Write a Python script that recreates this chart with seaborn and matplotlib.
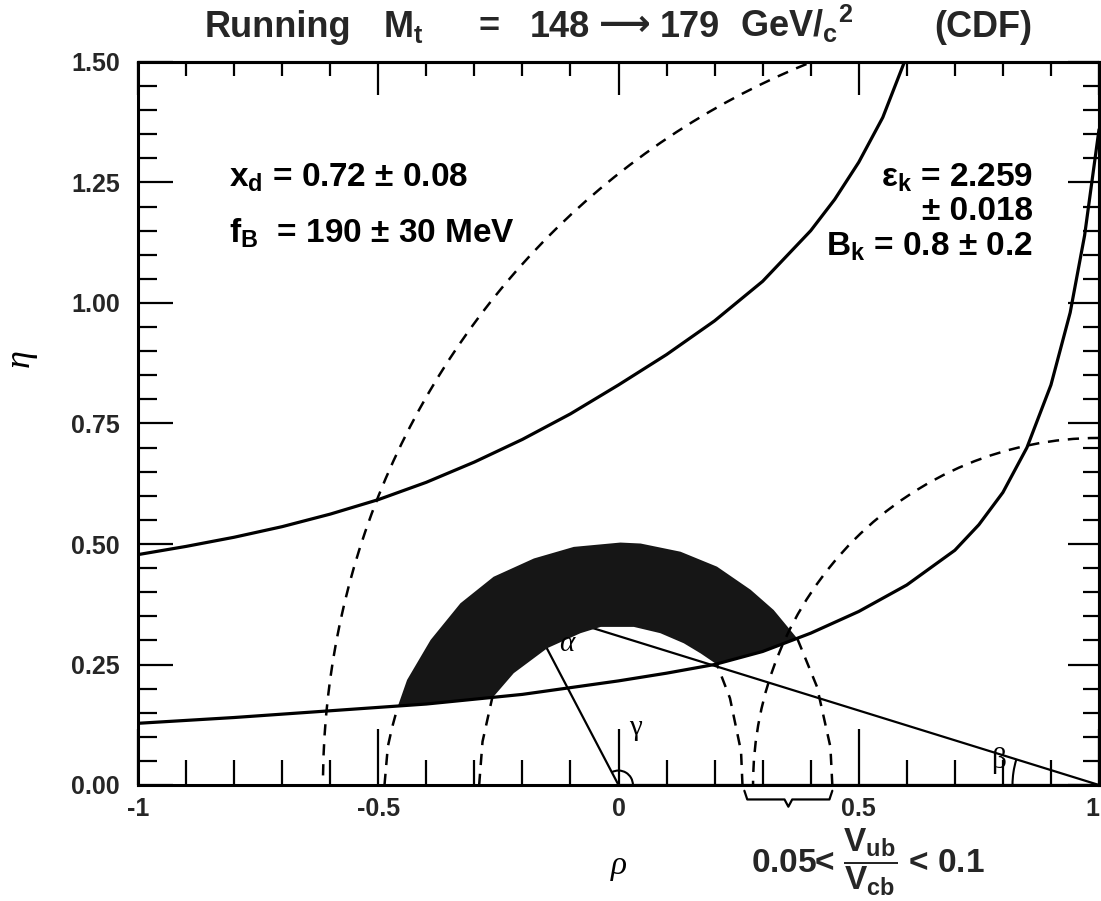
import matplotlib
matplotlib.use("Agg")
import matplotlib.pyplot as plt
from matplotlib.patches import Arc
from matplotlib.ticker import MultipleLocator
import seaborn as sns

# ── datos ────────────────────────────────────────────────────────────────────
# hipérbola de eps_K (rama superior e inferior)
EPS_UP_RHO = [-1.0, -0.9, -0.8, -0.7, -0.6, -0.5, -0.4, -0.3, -0.2, -0.1, 0.0,
              0.1, 0.2, 0.3, 0.4, 0.45, 0.5, 0.55, 0.595]
EPS_UP_ETA = [0.478, 0.495, 0.514, 0.536, 0.562, 0.592, 0.628, 0.67, 0.717, 0.77, 0.83,
              0.893, 0.963, 1.045, 1.15, 1.215, 1.292, 1.385, 1.5]

EPS_LO_RHO = [-1.0, -0.8, -0.6, -0.4, -0.2, 0.0, 0.1, 0.2, 0.3, 0.4, 0.5, 0.6,
              0.7, 0.75, 0.8, 0.85, 0.9, 0.94, 0.97, 1.0]
EPS_LO_ETA = [0.128, 0.14, 0.154, 0.168, 0.188, 0.216, 0.232, 0.25, 0.277, 0.315, 0.36, 0.415,
              0.487, 0.54, 0.607, 0.7, 0.83, 0.98, 1.14, 1.36]

# círculos de x_d centrados en (1, 0)
XD_CENTER = (1.0, 0.0)
XD_RADII = [0.72, 1.615]

# tramos cortos de |Vub/Vcb| (del eje hasta la banda)
VUB_SEGMENTS = [
    ([-0.487, -0.48, -0.471, -0.459], [0.0, 0.08, 0.12, 0.164]),
    ([-0.29, -0.283, -0.263], [0.0, 0.09, 0.18]),
    ([0.258, 0.255, 0.232, 0.205], [0.0, 0.07, 0.18, 0.25]),
    ([0.445, 0.441, 0.413, 0.379, 0.372], [0.0, 0.079, 0.204, 0.287, 0.304]),
]
BRACE_RHO = (0.262, 0.445)

# región permitida (banda sombreada)
BAND_OUTER_RHO = [-0.459, -0.44, -0.391, -0.329, -0.26, -0.176, -0.093, 0.004, 0.046,
                  0.129, 0.205, 0.275, 0.323, 0.372]
BAND_OUTER_ETA = [0.164, 0.218, 0.301, 0.377, 0.432, 0.47, 0.494, 0.503, 0.501,
                  0.484, 0.453, 0.405, 0.363, 0.304]
BAND_LOWR_RHO = [0.3, 0.205]
BAND_LOWR_ETA = [0.277, 0.25]
BAND_INNER_RHO = [0.171, 0.136, 0.087, 0.032, -0.037, -0.079, -0.148, -0.218, -0.263]
BAND_INNER_ETA = [0.273, 0.294, 0.315, 0.328, 0.328, 0.315, 0.284, 0.232, 0.18]
BAND_LOWL_RHO = [-0.36]
BAND_LOWL_ETA = [0.172]

# triángulo de unitariedad
TRI_RHO = [0.0, 1.0, -0.194, 0.0]
TRI_ETA = [0.0, 0.0, 0.369, 0.0]

XTICKS = [-1, -0.5, 0, 0.5, 1]
XTICK_LABELS = ["-1", "-0.5", "0", "0.5", "1"]
YTICKS = [0.0, 0.25, 0.5, 0.75, 1.0, 1.25, 1.5]

# ── estilo ───────────────────────────────────────────────────────────────────
sns.set_theme(style="ticks")
plt.rcParams["font.family"] = ["Liberation Sans", "DejaVu Sans"]
plt.rcParams["font.weight"] = "bold"
plt.rcParams["mathtext.fontset"] = "custom"
plt.rcParams["mathtext.rm"] = "Liberation Sans:bold"
plt.rcParams["mathtext.it"] = "Liberation Sans:bold"
plt.rcParams["mathtext.bf"] = "Liberation Sans:bold"
plt.rcParams["mathtext.sf"] = "Liberation Sans:bold"

fig = plt.figure(figsize=(11.01, 9.01), dpi=100)
ax = fig.add_axes([138 / 1101, 116 / 901, 961 / 1101, 723 / 901])

DASH = (0, (4.5, 3.5))

# triángulo (debajo de la banda)
ax.plot(TRI_RHO, TRI_ETA, color="black", lw=1.6, zorder=2)

# banda
band_x = BAND_OUTER_RHO + BAND_LOWR_RHO + BAND_INNER_RHO + BAND_LOWL_RHO
band_y = BAND_OUTER_ETA + BAND_LOWR_ETA + BAND_INNER_ETA + BAND_LOWL_ETA
ax.fill(band_x, band_y, color="#161616", lw=0, zorder=3)

# hipérbolas eps_K
for xs, ys in [(EPS_UP_RHO, EPS_UP_ETA), (EPS_LO_RHO, EPS_LO_ETA)]:
    sns.lineplot(x=xs, y=ys, sort=False, estimator=None, color="black",
                 linewidth=2.3, ax=ax, zorder=4)

# círculos x_d
for r in XD_RADII:
    ax.add_patch(Arc(XD_CENTER, 2 * r, 2 * r, theta1=90, theta2=180,
                     color="black", lw=1.8, linestyle=DASH, zorder=4))

# tramos Vub/Vcb
for xs, ys in VUB_SEGMENTS:
    sns.lineplot(x=xs, y=ys, sort=False, estimator=None, color="black",
                 linewidth=1.8, linestyle=DASH, ax=ax, zorder=4)

# ángulos
ax.add_patch(Arc((0, 0), 0.06, 0.06, theta1=0, theta2=118, color="black", lw=1.5, zorder=4))
ax.add_patch(Arc((1, 0), 0.36, 0.36, theta1=163, theta2=180, color="black", lw=1.5, zorder=4))
serif = dict(family=["Liberation Serif", "DejaVu Serif"], fontweight="normal", color="black")
ax.text(0.022, 0.118, "γ", fontsize=21, ha="left", va="center", zorder=5, **serif)
ax.text(0.79, 0.05, "β", fontsize=21, ha="center", va="center", zorder=5, **serif)
ax.text(-0.108, 0.292, "α", fontsize=21, style="italic", ha="center", va="center", zorder=5, **serif)

# llave bajo el eje
b0, b1 = BRACE_RHO
bm = (b0 + b1) / 2
ax.plot([b0, b0 + 0.006, bm - 0.008, bm, bm + 0.008, b1 - 0.006, b1],
        [-0.012, -0.03, -0.03, -0.045, -0.03, -0.03, -0.012],
        color="black", lw=1.6, clip_on=False)

# ejes
ax.set_xlim(-1, 1)
ax.set_ylim(0, 1.5)
ax.set_xticks(XTICKS)
ax.set_xticklabels(XTICK_LABELS)
ax.set_yticks(YTICKS)
ax.set_yticklabels([f"{v:.2f}" for v in YTICKS])
ax.xaxis.set_minor_locator(MultipleLocator(0.1))
ax.yaxis.set_minor_locator(MultipleLocator(0.05))
ax.tick_params(which="both", direction="in", top=False, right=False, color="black", width=1.6)
ax.tick_params(axis="x", which="major", length=40, labelsize=18, pad=9)
ax.tick_params(axis="x", which="minor", length=18)
ax.tick_params(axis="y", which="major", length=25, labelsize=18, pad=13)
ax.tick_params(axis="y", which="minor", length=14)
for lab in ax.get_xticklabels() + ax.get_yticklabels():
    lab.set_fontweight("bold")
ax.get_xticklabels()[-1].set_ha("right")

# ticks de arriba y de la derecha (más cortos)
secx = ax.secondary_xaxis("top")
secx.set_xticks(XTICKS)
secx.xaxis.set_minor_locator(MultipleLocator(0.1))
secx.tick_params(which="both", direction="in", labeltop=False, color="black", width=1.6)
secx.tick_params(which="major", length=24)
secx.tick_params(which="minor", length=10)
secy = ax.secondary_yaxis("right")
secy.set_yticks(YTICKS)
secy.yaxis.set_minor_locator(MultipleLocator(0.05))
secy.tick_params(which="both", direction="in", labelright=False, color="black", width=1.6)
secy.tick_params(which="major", length=22)
secy.tick_params(which="minor", length=11.5)
for a in (ax, secx, secy):
    for sp in a.spines.values():
        sp.set_linewidth(2.2)
        sp.set_color("black")

ax.set_xlabel("ρ", fontsize=24, style="italic", **serif)
ax.set_ylabel("η", fontsize=26, style="italic", **serif)
ax.xaxis.set_label_coords(0.5, -0.09)
ax.yaxis.set_label_coords(-0.105, 0.59)

# textos
txt = dict(fontsize=24, fontweight="bold", color="black")
ax.text(-0.81, 1.259, "x$_d$ = 0.72 ± 0.08", ha="left", va="center", **txt)
ax.text(-0.81, 1.145, "f$_B$  = 190 ± 30 MeV", ha="left", va="center", **txt)
ax.text(0.862, 1.259, "ε$_k$ = 2.259", ha="right", va="center", **txt)
ax.text(0.862, 1.189, "± 0.018", ha="right", va="center", **txt)
ax.text(0.862, 1.116, "B$_k$ = 0.8 ± 0.2", ha="right", va="center", **txt)

# título por piezas, sobre una misma línea base
TY = 1 - 37 / 901
ttl = dict(fontsize=26, fontweight="bold", va="baseline")
fig.text(205 / 1101, TY, "Running", ha="left", **ttl)
fig.text(383 / 1101, TY, "M$_t$", ha="left", **ttl)
fig.text(478 / 1101, TY, "=", ha="left", **ttl)
fig.text(530 / 1101, TY, "148", ha="left", **ttl)
fig.text(625 / 1101, TY + 2 / 901, "⟶", ha="center", family=["DejaVu Sans"], fontsize=26, va="baseline")
fig.text(660 / 1101, TY, "179", ha="left", **ttl)
fig.text(740 / 1101, TY, "GeV/$_c$$^2$", ha="left", **ttl)
fig.text(1032 / 1101, TY, "(CDF)", ha="right", **ttl)

fig.text(751 / 1101, 1 - 862 / 901, r"0.05< $\dfrac{V_{ub}}{V_{cb}}$ < 0.1",
         ha="left", va="center", fontsize=24, fontweight="bold")

fig.savefig("out.png", dpi=100)
plt.close(fig)
